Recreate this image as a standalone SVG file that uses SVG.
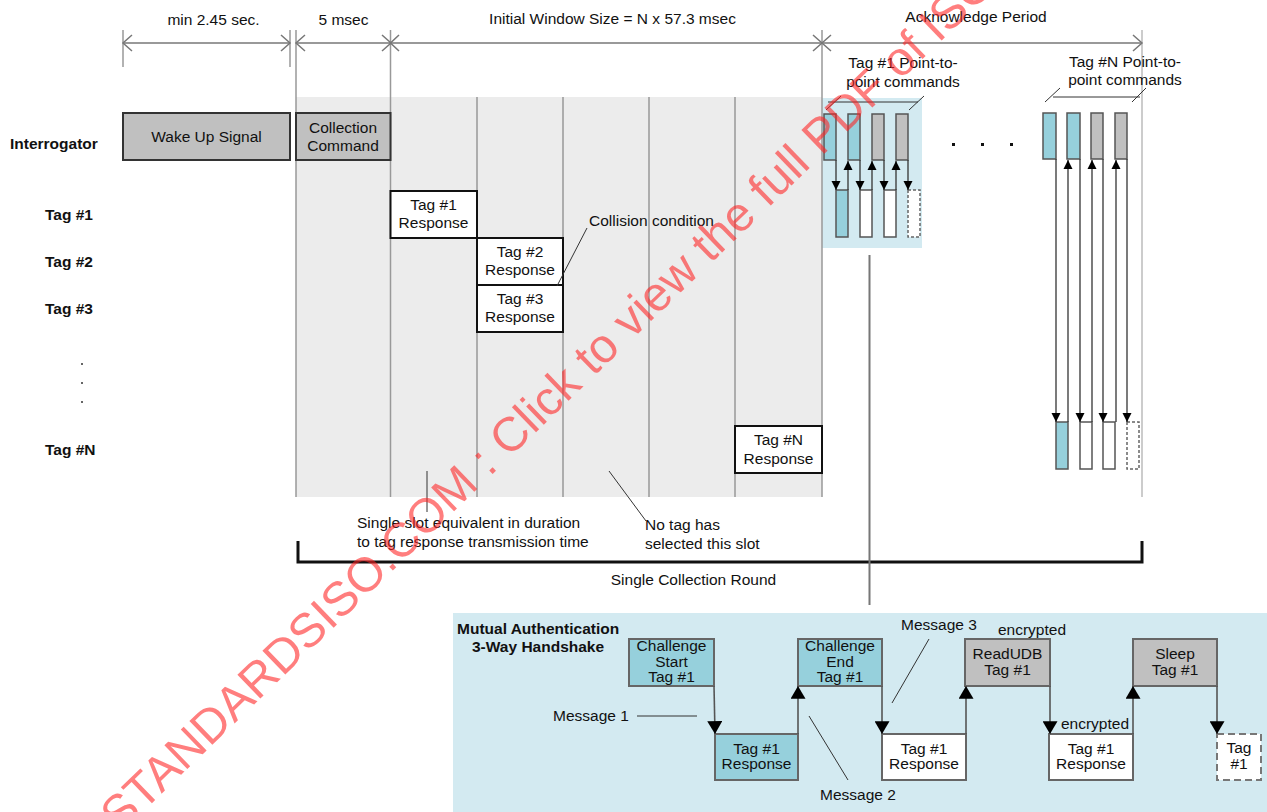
<svg xmlns="http://www.w3.org/2000/svg" width="1267" height="812" viewBox="0 0 1267 812">
<style>
text{font-family:"Liberation Sans",Arial,sans-serif;font-size:15.5px;fill:#111}
.c{text-anchor:middle}
.b{font-weight:bold}
.dim{stroke:#777;stroke-width:1.5;fill:none}
.slot{stroke:#999;stroke-width:1.5}
.big{fill:#c0c0c0;stroke:#333;stroke-width:2}
.resp{fill:#fff;stroke:#111;stroke-width:2}
.sb{fill:#96d0dc;stroke:#555;stroke-width:1.5}
.sg{fill:#c0c0c0;stroke:#555;stroke-width:1.5}
.sw{fill:#fff;stroke:#555;stroke-width:1.5}
.sd{fill:#fff;stroke:#666;stroke-width:1.5;stroke-dasharray:3 2}
.ar{stroke:#333;stroke-width:1.3;fill:none}
.ar2{stroke:#555;stroke-width:1.6;fill:none}
.lb{fill:#96d0dc;stroke:#666;stroke-width:2}
.lg{fill:#c0c0c0;stroke:#666;stroke-width:2}
.lw{fill:#fff;stroke:#666;stroke-width:2}
.ld{fill:#fff;stroke:#777;stroke-width:2;stroke-dasharray:7 4}
.lead{stroke:#333;stroke-width:1;fill:none}
</style>
<defs>
<marker id="ah" viewBox="0 0 10 10" refX="10" refY="5" markerWidth="9" markerHeight="10" orient="auto" markerUnits="userSpaceOnUse"><path d="M0,0 L10,5 L0,10 z" fill="#000"/></marker>
<marker id="ahL" viewBox="0 0 12 14" refX="12" refY="7" markerWidth="13" markerHeight="15" orient="auto" markerUnits="userSpaceOnUse"><path d="M0,0 L12,7 L0,14 z" fill="#000"/></marker>
</defs>

<!-- backgrounds -->
<rect x="296" y="97" width="526" height="400" fill="#ececec"/>
<rect x="822" y="98" width="100" height="150" fill="#d3eaf1"/>
<rect x="453" y="613" width="814" height="199" fill="#d3eaf1"/>

<!-- slot / dimension verticals -->
<g id="grid">
<line class="slot" x1="123" y1="30" x2="123" y2="67"/>
<line class="slot" x1="290" y1="30" x2="290" y2="67"/>
<line class="slot" x1="296" y1="30" x2="296" y2="497"/>
<line class="slot" x1="390.5" y1="30" x2="390.5" y2="497"/>
<line class="slot" x1="477" y1="97" x2="477" y2="497"/>
<line class="slot" x1="563" y1="97" x2="563" y2="497"/>
<line class="slot" x1="649" y1="97" x2="649" y2="497"/>
<line class="slot" x1="735" y1="97" x2="735" y2="497"/>
<line class="slot" x1="822" y1="30" x2="822" y2="497"/>
<line x1="1142" y1="30" x2="1142" y2="497" stroke="#bbb" stroke-width="1.5"/>
</g>

<!-- dimension lines -->
<g id="dimensions">
<line class="dim" x1="123" y1="43" x2="290" y2="43"/>
<path class="dim" d="M132,35 L123,43 L132,51 M281,35 L290,43 L281,51"/>
<line class="dim" x1="296" y1="43" x2="390.5" y2="43"/>
<path class="dim" d="M305,35 L296,43 L305,51 M382,35 L391,43 L382,51"/>
<line class="dim" x1="390.5" y1="43" x2="822" y2="43"/>
<path class="dim" d="M399,35 L390.5,43 L399,51 M813,35 L822,43 L813,51"/>
<line class="dim" x1="822" y1="43" x2="1142" y2="43"/>
<path class="dim" d="M831,35 L822,43 L831,51 M1133,35 L1142,43 L1133,51"/>
<text class="c" x="213.5" y="25">min 2.45 sec.</text>
<text class="c" x="343.5" y="25">5 msec</text>
<text class="c" x="612.5" y="24">Initial Window Size = N x 57.3 msec</text>
<text class="c" x="976" y="22">Acknowledge Period</text>
</g>

<!-- row labels -->
<g id="row-labels">
<text class="b" x="10" y="149">Interrogator</text>
<text class="b" x="45" y="220">Tag #1</text>
<text class="b" x="45" y="267">Tag #2</text>
<text class="b" x="45" y="314">Tag #3</text>
<circle cx="82" cy="364" r="1" fill="#333"/>
<circle cx="82" cy="383" r="1" fill="#333"/>
<circle cx="82" cy="402" r="1" fill="#333"/>
<text class="b" x="45" y="455">Tag #N</text>
</g>

<!-- collection round nodes -->
<g id="wake-up">
<rect class="big" x="123" y="113" width="167" height="47"/>
<text class="c" x="206.5" y="142">Wake Up Signal</text>
</g>
<g id="collection-command">
<rect class="big" x="296" y="113" width="94.5" height="47"/>
<text class="c" x="343" y="133">Collection</text>
<text class="c" x="343" y="151">Command</text>
</g>
<g id="tag1-response">
<rect class="resp" x="390.5" y="191" width="86.5" height="47"/>
<text class="c" x="433.5" y="210">Tag #1</text>
<text class="c" x="433.5" y="228">Response</text>
</g>
<g id="tag2-response">
<rect class="resp" x="477" y="238" width="86" height="47"/>
<text class="c" x="520" y="257">Tag #2</text>
<text class="c" x="520" y="275">Response</text>
</g>
<g id="tag3-response">
<rect class="resp" x="477" y="285" width="86" height="47"/>
<text class="c" x="520" y="304">Tag #3</text>
<text class="c" x="520" y="322">Response</text>
</g>
<g id="tagN-response">
<rect class="resp" x="735" y="426" width="87" height="47"/>
<text class="c" x="778.5" y="445">Tag #N</text>
<text class="c" x="778.5" y="464">Response</text>
</g>

<!-- annotations -->
<g id="annotations">
<text x="589" y="226">Collision condition</text>
<line class="lead" x1="587" y1="228" x2="557" y2="286"/>
<line class="lead" x1="427" y1="471" x2="427" y2="512"/>
<text x="357" y="528">Single slot equivalent in duration</text>
<text x="357" y="547">to tag response transmission time</text>
<line class="lead" x1="609" y1="471" x2="646" y2="521"/>
<text x="645" y="530">No tag has</text>
<text x="645" y="549">selected this slot</text>
<path d="M298,541 L298,562 L1142,562 L1142,541" fill="none" stroke="#111" stroke-width="3"/>
<text class="c" x="693.5" y="585">Single Collection Round</text>
</g>

<!-- tag #1 point-to-point -->
<g id="tag1-p2p">
<text class="c" x="903" y="68">Tag #1 Point-to-</text>
<text class="c" x="903" y="87">point commands</text>
<path class="lead" d="M828,102 L918,102 M826,110 L841,96 M909,110 L924,96"/>
<rect class="sb" x="824" y="114" width="12" height="46"/>
<rect class="sb" x="848" y="114" width="12" height="46"/>
<rect class="sg" x="872" y="114" width="12" height="46"/>
<rect class="sg" x="896" y="114" width="12" height="46"/>
<rect class="sb" x="836" y="190" width="12" height="47"/>
<rect class="sw" x="860" y="190" width="12" height="47"/>
<rect class="sw" x="884" y="190" width="12" height="47"/>
<rect class="sd" x="908" y="190" width="12" height="47"/>
</g>

<g id="ellipsis">
<rect x="952" y="143" width="3" height="3" fill="#111"/>
<rect x="981" y="143" width="3" height="3" fill="#111"/>
<rect x="1010" y="143" width="3" height="3" fill="#111"/>
</g>

<!-- tag #N point-to-point -->
<g id="tagN-p2p">
<text class="c" x="1125" y="67">Tag #N Point-to-</text>
<text class="c" x="1125" y="85">point commands</text>
<path class="lead" d="M1053,97 L1140,97 M1045,102 L1060,88 M1132,102 L1146,88"/>
<rect class="sb" x="1043" y="113" width="13" height="46"/>
<rect class="sb" x="1067" y="113" width="13" height="46"/>
<rect class="sg" x="1091" y="113" width="12" height="46"/>
<rect class="sg" x="1115" y="113" width="12" height="46"/>
<rect class="sb" x="1056" y="422" width="12" height="47"/>
<rect class="sw" x="1080" y="422" width="12" height="47"/>
<rect class="sw" x="1103" y="422" width="12" height="47"/>
<rect class="sd" x="1127" y="422" width="12" height="47"/>
</g>

<!-- lower panel nodes -->
<g id="auth-title">
<text class="b" x="457" y="634">Mutual Authentication</text>
<text class="b" x="472" y="652">3-Way Handshake</text>
</g>
<g id="challenge-start">
<rect class="lb" x="629" y="639" width="85" height="47"/>
<text class="c" x="671.5" y="651">Challenge</text>
<text class="c" x="671.5" y="667">Start</text>
<text class="c" x="671.5" y="682">Tag #1</text>
</g>
<g id="auth-resp1">
<rect class="lb" x="715" y="734" width="83" height="46"/>
<text class="c" x="756.5" y="754">Tag #1</text>
<text class="c" x="756.5" y="769">Response</text>
</g>
<g id="challenge-end">
<rect class="lb" x="798" y="639" width="84" height="47"/>
<text class="c" x="840" y="651">Challenge</text>
<text class="c" x="840" y="667">End</text>
<text class="c" x="840" y="682">Tag #1</text>
</g>
<g id="auth-resp2">
<rect class="lw" x="882" y="734" width="84" height="46"/>
<text class="c" x="924" y="754">Tag #1</text>
<text class="c" x="924" y="769">Response</text>
</g>
<g id="readudb">
<rect class="lg" x="965" y="639" width="85" height="47"/>
<text class="c" x="1007.5" y="659">ReadUDB</text>
<text class="c" x="1007.5" y="675">Tag #1</text>
<text class="c" x="1032" y="635">encrypted</text>
</g>
<g id="auth-resp3">
<rect class="lw" x="1049" y="734" width="84" height="46"/>
<text class="c" x="1091" y="754">Tag #1</text>
<text class="c" x="1091" y="769">Response</text>
<text class="c" x="1095" y="729">encrypted</text>
</g>
<g id="sleep">
<rect class="lg" x="1133" y="639" width="84" height="47"/>
<text class="c" x="1175" y="659">Sleep</text>
<text class="c" x="1175" y="675">Tag #1</text>
</g>
<g id="tag1-asleep">
<rect class="ld" x="1217" y="734" width="44" height="46"/>
<text class="c" x="1239" y="753">Tag</text>
<text class="c" x="1239" y="769">#1</text>
</g>
<g id="message-labels">
<text x="553" y="721">Message 1</text>
<line class="lead" x1="637" y1="716" x2="697" y2="716"/>
<text class="c" x="858" y="800">Message 2</text>
<line class="lead" x1="809" y1="716" x2="848" y2="780"/>
<text x="901" y="630">Message 3</text>
<line class="lead" x1="929" y1="639" x2="892" y2="703"/>
</g>

<!-- connectors -->
<g id="connectors">
<line class="ar" x1="836" y1="160" x2="836" y2="190" marker-end="url(#ah)"/>
<line class="ar" x1="848" y1="190" x2="848" y2="161" marker-end="url(#ah)"/>
<line class="ar" x1="860" y1="160" x2="860" y2="190" marker-end="url(#ah)"/>
<line class="ar" x1="872" y1="190" x2="872" y2="161" marker-end="url(#ah)"/>
<line class="ar" x1="884" y1="160" x2="884" y2="190" marker-end="url(#ah)"/>
<line class="ar" x1="896" y1="190" x2="896" y2="161" marker-end="url(#ah)"/>
<line class="ar" x1="908" y1="160" x2="908" y2="190" marker-end="url(#ah)"/>
<line class="ar" x1="1056" y1="159" x2="1056" y2="422" marker-end="url(#ah)"/>
<line class="ar" x1="1068" y1="422" x2="1068" y2="160" marker-end="url(#ah)"/>
<line class="ar" x1="1080" y1="159" x2="1080" y2="422" marker-end="url(#ah)"/>
<line class="ar" x1="1092" y1="422" x2="1092" y2="160" marker-end="url(#ah)"/>
<line class="ar" x1="1103" y1="159" x2="1103" y2="422" marker-end="url(#ah)"/>
<line class="ar" x1="1116" y1="422" x2="1116" y2="160" marker-end="url(#ah)"/>
<line class="ar" x1="1127" y1="159" x2="1127" y2="422" marker-end="url(#ah)"/>
<line x1="869.5" y1="255" x2="869.5" y2="605" stroke="#777" stroke-width="2"/>
<line class="ar2" x1="714" y1="686" x2="715" y2="734" marker-end="url(#ahL)"/>
<line class="ar2" x1="798" y1="734" x2="798" y2="686" marker-end="url(#ahL)"/>
<line class="ar2" x1="882" y1="686" x2="882" y2="734" marker-end="url(#ahL)"/>
<line class="ar2" x1="966" y1="734" x2="966" y2="686" marker-end="url(#ahL)"/>
<line class="ar2" x1="1050" y1="686" x2="1050" y2="734" marker-end="url(#ahL)"/>
<line class="ar2" x1="1133" y1="734" x2="1133" y2="686" marker-end="url(#ahL)"/>
<line class="ar2" x1="1217" y1="686" x2="1217" y2="734" marker-end="url(#ahL)"/>
</g>

<!-- watermark -->
<text transform="translate(120,834) rotate(-44)" style="font-size:48px;fill:#ff2020;fill-opacity:0.58">STANDARDSISO.COM : Click to view the full PDF of ISO</text>
</svg>
